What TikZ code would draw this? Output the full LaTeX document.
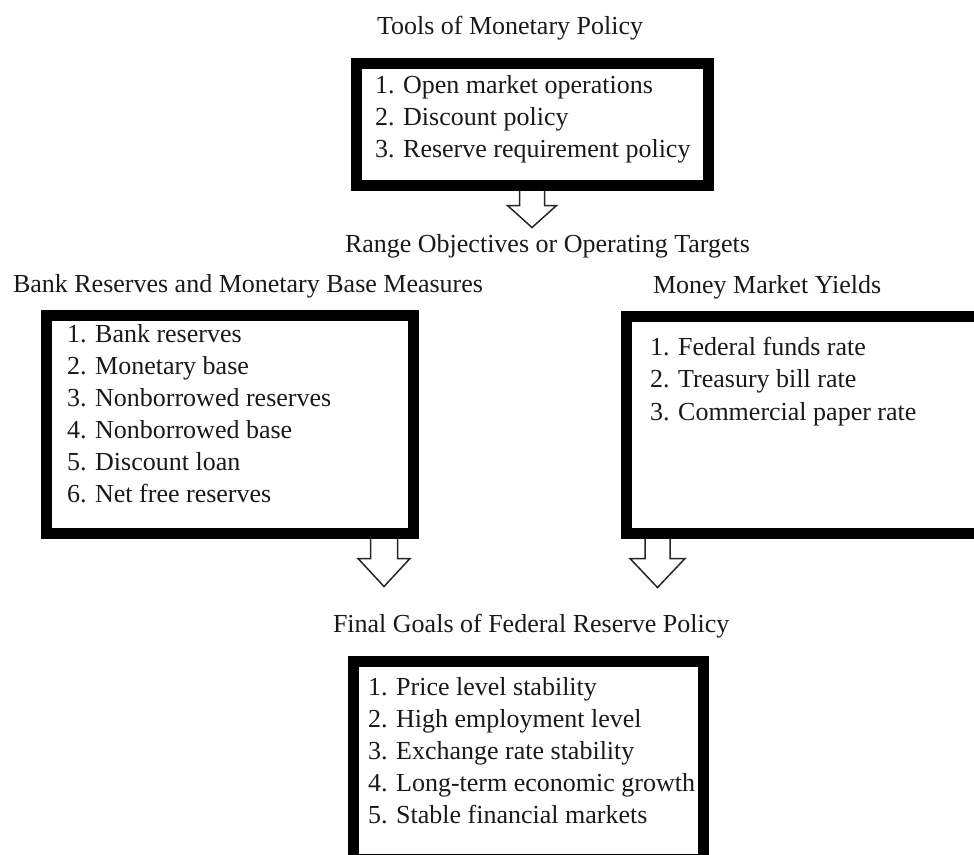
\documentclass[tikz,border=0pt]{standalone}
\usepackage{fontspec}
\setmainfont{Liberation Serif}
\begin{document}
\begin{tikzpicture}[x=1pt,y=-1pt,
  box/.style={draw=black, line width=11pt, inner sep=0pt, anchor=north west},
  lbl/.style={anchor=base west, inner sep=0pt, outer sep=0pt, text=black!90, font=\fontsize{26}{32}\selectfont},
  arr/.style={draw=black!85, line width=1.5pt, line join=miter},
  pics/blockarrow/.style n args={4}{code={
    \draw[arr] (-#1,0) -- (-#1,#3) -- (-#2,#3) -- (0,{#3+#4}) -- (#2,#3) -- (#1,#3) -- (#1,0);}}
]
\useasboundingbox (0,0) rectangle (974,854);

% boxes
\node[box, minimum width=352pt, minimum height=122pt] (tools) at (350.5,57.5) {};
\node[box, minimum width=367pt, minimum height=218pt] (bank) at (40.5,309.5) {};
\node[box, minimum width=400pt, minimum height=217pt] (money) at (620.5,310.5) {};
\node[box, minimum width=350pt, minimum height=198pt] (final) at (347.5,655.5) {};

% titles
\node[lbl] (ttools) at (377,34) {Tools of Monetary Policy};
\node[lbl] (trange) at (345,252) {Range Objectives or Operating Targets};
\node[lbl] (tbank) at (13,292) {Bank Reserves and Monetary Base Measures};
\node[lbl] (tmoney) at (653,293) {Money Market Yields};
\node[lbl] (tfinal) at (333,632) {Final Goals of Federal Reserve Policy};

% tools list
\node[lbl] (o1) at (375,93) {1. Open market operations};
\node[lbl] (o2) at (375,125) {2. Discount policy};
\node[lbl] (o3) at (375,157) {3. Reserve requirement policy};

% bank list
\node[lbl] (b1) at (67,342) {1. Bank reserves};
\node[lbl] (b2) at (67,374) {2. Monetary base};
\node[lbl] (b3) at (67,406) {3. Nonborrowed reserves};
\node[lbl] (b4) at (67,438) {4. Nonborrowed base};
\node[lbl] (b5) at (67,470) {5. Discount loan};
\node[lbl] (b6) at (67,502) {6. Net free reserves};

% money list
\node[lbl] (m1) at (650,355) {1. Federal funds rate};
\node[lbl] (m2) at (650,387.5) {2. Treasury bill rate};
\node[lbl] (m3) at (650,420) {3. Commercial paper rate};

% final list
\node[lbl] (f1) at (368,695) {1. Price level stability};
\node[lbl] (f2) at (368,727) {2. High employment level};
\node[lbl] (f3) at (368,759) {3. Exchange rate stability};
\node[lbl] (f4) at (368,791) {4. Long-term economic growth};
\node[lbl] (f5) at (368,823) {5. Stable financial markets};

% block arrows
\pic at (tools.south) {blockarrow={12.5}{24.5}{15}{22}};
\pic at (384,0 |- bank.south) {blockarrow={13.5}{26}{20}{28}};
\pic at (657.5,0 |- money.south) {blockarrow={12.5}{27.5}{20}{29}};
\end{tikzpicture}
\end{document}
